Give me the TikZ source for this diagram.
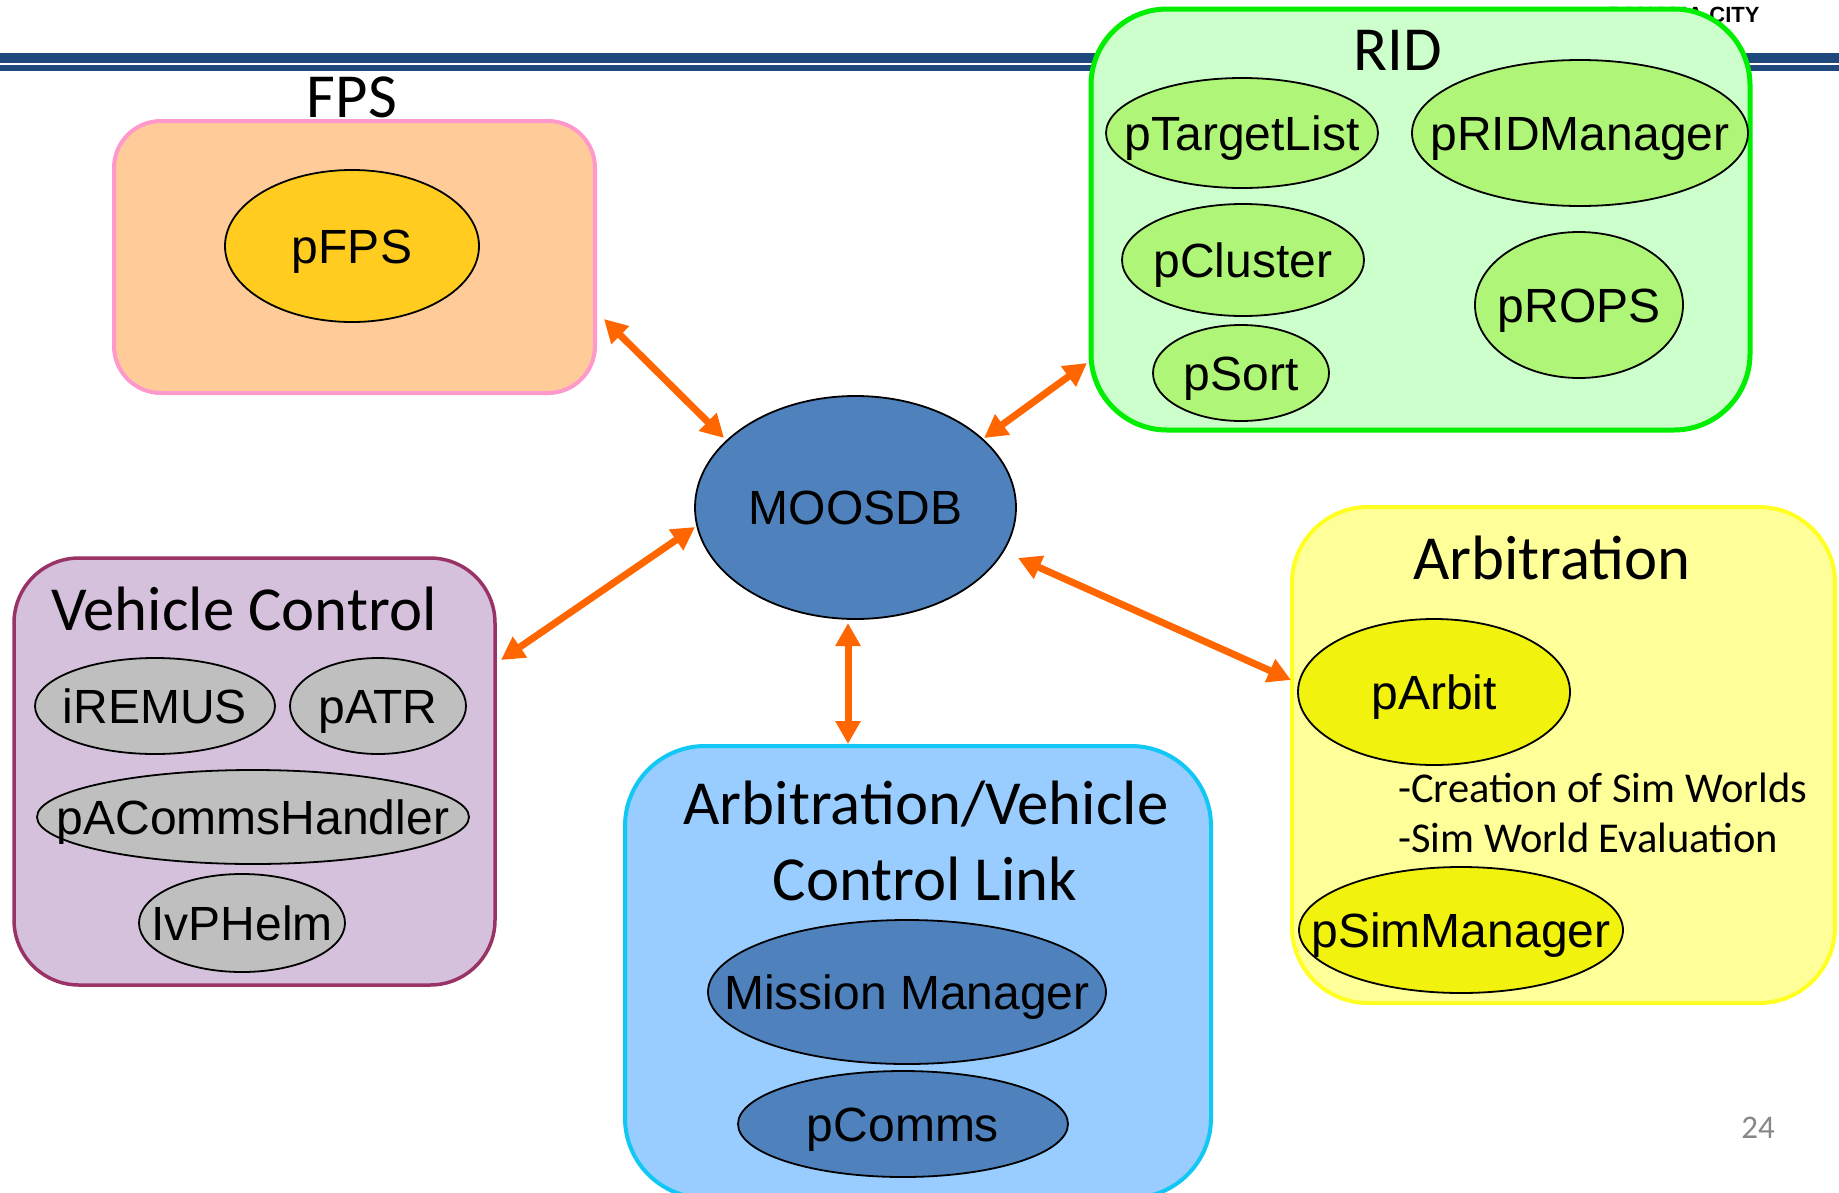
\documentclass[tikz,border=0pt]{standalone}
\usepackage{fontspec}
\setmainfont{Carlito}
\newfontfamily\arial{Liberation Sans}
\usetikzlibrary{shapes.geometric,arrows.meta}
\definecolor{hdr}{HTML}{1F497D}
\definecolor{fpsfill}{HTML}{FFCC99}
\definecolor{fpsline}{HTML}{FF99CC}
\definecolor{fpsell}{HTML}{FFCC1F}
\definecolor{ridfill}{HTML}{CCFFCC}
\definecolor{ridline}{HTML}{00EE00}
\definecolor{ridell}{HTML}{AFF578}
\definecolor{vcfill}{HTML}{D6C1DC}
\definecolor{vcline}{HTML}{993366}
\definecolor{vcell}{HTML}{BFBFBF}
\definecolor{lkfill}{HTML}{99CCFF}
\definecolor{lkline}{HTML}{11C8F5}
\definecolor{blueell}{HTML}{4F81BD}
\definecolor{arbfill}{HTML}{FFFF99}
\definecolor{arbline}{HTML}{FFFF22}
\definecolor{arbell}{HTML}{F2F20F}
\definecolor{arrowc}{HTML}{FF6600}
\newcommand{\zw}[1]{\makebox[0pt]{\raisebox{0pt}[0.716em][0pt]{#1}}}
\tikzset{
  grpbox/.style={draw, rectangle, inner sep=0pt},
  ell/.style={draw=black, line width=1.8pt, ellipse, inner sep=0pt,
    font=\arial\fontsize{48}{56}\selectfont},
  ttl/.style={inner sep=0pt, anchor=base, font=\fontsize{62.7}{70}\selectfont},
  bul/.style={inner sep=0pt, anchor=base west, font=\fontsize{42.5}{50}\selectfont},
  link/.style={draw=arrowc, line width=7pt,
    {Triangle[length=23pt,width=24pt]}-{Triangle[length=23pt,width=24pt]}}
}
\begin{document}
\begin{tikzpicture}[x=1pt,y=-1pt]
\useasboundingbox (0,0) rectangle (1839,1192);
\fill[white] (0,0) rectangle (1839,1192);
% header
\node[inner sep=0pt, font=\arial\bfseries\fontsize{22}{24}\selectfont] (city) at (1684,15) {PANAMA CITY};
\fill[hdr] (0,53) rectangle (1839,63);
\fill[hdr] (0,64.5) rectangle (1839,70.5);
% FPS
\node[grpbox, fill=fpsfill, draw=fpsline, line width=4pt, rounded corners=47pt,
  minimum width=481pt, minimum height=272pt] (fps) at (354.5,257) {};
\node[ttl] (fpst) at (352,117) {FPS};
\node[ell, fill=fpsell, minimum width=254pt, minimum height=152pt] (pfps) at (352,246) {\zw{pFPS}};
% RID
\node[grpbox, fill=ridfill, draw=ridline, line width=5pt, rounded corners=76pt,
  minimum width=659pt, minimum height=421pt] (rid) at (1420.5,219.5) {};
\node[ttl] (ridt) at (1398,70) {RID};
\node[ell, fill=ridell, minimum width=272pt, minimum height=110pt] (ptl) at (1242,133) {\zw{pTargetList}};
\node[ell, fill=ridell, minimum width=336pt, minimum height=146pt] (prm) at (1580,133) {\zw{pRIDManager}};
\node[ell, fill=ridell, minimum width=242pt, minimum height=112pt] (pcl) at (1243,260) {\zw{pCluster}};
\node[ell, fill=ridell, minimum width=208pt, minimum height=146pt] (props) at (1579,305) {\zw{pROPS}};
\node[ell, fill=ridell, minimum width=176pt, minimum height=96pt] (psort) at (1241,373) {\zw{pSort}};
% Vehicle Control
\node[grpbox, fill=vcfill, draw=vcline, line width=3.5pt, rounded corners=65pt,
  minimum width=481pt, minimum height=427pt] (vc) at (254.5,771.5) {};
\node[ttl] (vct) at (244,630) {Vehicle Control};
\node[ell, fill=vcell, minimum width=240pt, minimum height=96pt] (irem) at (155,706) {\zw{iREMUS}};
\node[ell, fill=vcell, minimum width=176pt, minimum height=96pt] (patr) at (378,706) {\zw{pATR}};
\node[ell, fill=vcell, minimum width=432pt, minimum height=94pt] (pach) at (253,817) {\zw{pACommsHandler}};
\node[ell, fill=vcell, minimum width=206pt, minimum height=98pt] (ivp) at (242,923) {\zw{IvPHelm}};
% Arbitration/Vehicle Control Link
\node[grpbox, fill=lkfill, draw=lkline, line width=4pt, rounded corners=80pt,
  minimum width=586pt, minimum height=452pt] (lk) at (918,972) {};
\node[ttl] (lkt1) at (926,824) {Arbitration/Vehicle};
\node[ttl] (lkt2) at (925,900) {Control Link};
\node[ell, fill=blueell, minimum width=398pt, minimum height=144pt] (mm) at (907,992) {\zw{Mission Manager}};
\node[ell, fill=blueell, minimum width=330pt, minimum height=106pt] (pcom) at (903,1124) {\zw{pComms}};
% Arbitration
\node[grpbox, fill=arbfill, draw=arbline, line width=4pt, rounded corners=76pt,
  minimum width=543pt, minimum height=496pt] (arb) at (1563.5,755) {};
\node[ttl] (arbt) at (1552,579) {Arbitration};
\node[ell, fill=arbell, minimum width=272pt, minimum height=146pt] (parb) at (1434,692) {\zw{pArbit}};
\node[bul] (b1) at (1398,802) {-Creation of Sim Worlds};
\node[bul] (b2) at (1398,852) {-Sim World Evaluation};
\node[ell, fill=arbell, minimum width=324pt, minimum height=126pt] (psim) at (1461,930) {\zw{pSimManager}};
% MOOSDB
\node[ell, fill=blueell, minimum width=321pt, minimum height=223pt] (moos) at (855.5,507.5) {\zw{MOOSDB}};
% page number
\node[inner sep=0pt, text=black!47, font=\fontsize{33}{36}\selectfont] (pg) at (1758,1128) {24};
% connector end points
\coordinate (e1a) at (604,319);  \coordinate (e1b) at (724,438);
\coordinate (e2a) at (1087,363); \coordinate (e2b) at (984,438);
\coordinate (e3a) at (501,660);  \coordinate (e3b) at (695,527);
\coordinate (e4a) at (1018,558); \coordinate (e4b) at (1291,680);
\coordinate (e5a) at (848,623);  \coordinate (e5b) at (848,744);
\draw[link] (e1a) -- (e1b);
\draw[link] (e2a) -- (e2b);
\draw[link] (e3a) -- (e3b);
\draw[link] (e4a) -- (e4b);
\draw[link] (e5a) -- (e5b);
\end{tikzpicture}
\end{document}
